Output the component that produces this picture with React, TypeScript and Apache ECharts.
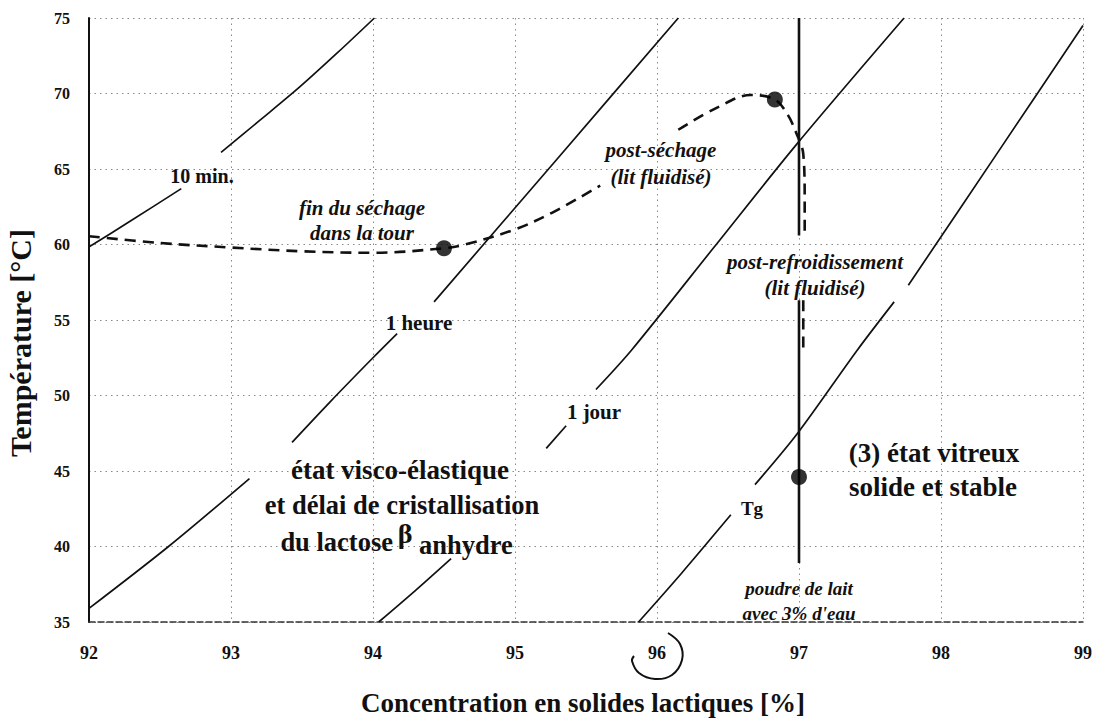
import React, { useEffect, useRef } from "react";
import * as echarts from "echarts";

// Axis ranges / ticks
const xTicks = [92, 93, 94, 95, 96, 97, 98, 99];
const yTicks = [35, 40, 45, 50, 55, 60, 65, 70, 75];

// Iso-time crystallisation lines (segments broken where labels sit)
const tenMinLow = [[91.96, 59.6], [92.3, 61.6], [92.65, 63.7]];
const tenMinHigh = [[92.93, 66.1], [93.2, 68.2], [93.48, 70.4], [93.75, 72.7], [94.01, 75]];
const oneHourA = [[92, 35.9], [92.56, 40.0], [93.13, 44.5]];
const oneHourB = [[93.43, 46.9], [93.7, 49.6], [94.0, 52.5], [94.17, 54.1]];
const oneHourC = [[94.43, 56.2], [95.3, 65.7], [96.15, 75]];
const oneDayA = [[94.04, 35], [94.3, 37.1], [94.55, 39.2]];
const oneDayB = [[95.22, 46.5], [95.36, 48.0]];
const oneDayC = [[95.57, 50.4], [95.82, 53.0], [96.4, 59.8], [96.98, 66.6], [97.74, 75]];
const tgA = [[95.87, 35], [96.17, 38.2], [96.52, 42.1]];
const tgB = [[96.69, 44.1], [96.99, 47.5], [97.41, 53.0], [97.67, 56.2]];
const tgC = [[97.77, 57.3], [98.4, 66.1], [99.0, 74.5]];

// Milk powder with 3% water (vertical line)
const powderTop = [[97, 75], [97, 60.6]];
const powderBottom = [[97, 56.3], [97, 38.9]];

// Process path (dashed)
const pathA = [[92.0, 60.55], [92.5, 60.1], [93.0, 59.8], [93.5, 59.55], [94.0, 59.45], [94.5, 59.75], [94.65, 60.0], [95.0, 61.0], [95.26, 62.1], [95.6, 63.9]];
const pathB = [[96.15, 67.6], [96.43, 69.1], [96.66, 69.9], [96.83, 69.6], [96.92, 68.6], [96.98, 67.4], [97.03, 66.0], [97.04, 63.0], [97.04, 60.7]];
const pathC = [[97.03, 56.3], [97.03, 53.0]];

// Key states
const keyPoints = [[94.5, 59.75], [96.83, 69.6], [97.0, 44.6]];

const SERIF = "'Liberation Serif', 'Times New Roman', serif";
const INK = "#111111";

export default function App() {
  const ref = useRef<HTMLDivElement>(null);

  useEffect(() => {
    document.body.style.margin = "0";
    const chart = echarts.init(ref.current!, null, { renderer: "svg" });

    const solid = (data: number[][], width = 1.7) => ({
      type: "line",
      data,
      smooth: 0.3,
      showSymbol: false,
      symbol: "none",
      lineStyle: { color: INK, width },
      silent: true,
      z: 3,
    });
    const dashed = (data: number[][]) => ({
      type: "line",
      data,
      smooth: 0.35,
      showSymbol: false,
      symbol: "none",
      lineStyle: { color: INK, width: 2.6, type: [11, 7] },
      silent: true,
      z: 4,
    });

    const txt = (text: string, x: number, y: number, size: number, opts: any = {}) => ({
      type: "text",
      x,
      y,
      silent: true,
      z: 10,
      style: {
        text,
        fill: INK,
        font: `${opts.italic ? "italic " : ""}bold ${size}px ${SERIF}`,
        textAlign: opts.align || "center",
        textVerticalAlign: "middle",
      },
      ...(opts.rotation ? { rotation: opts.rotation } : {}),
    });

    chart.setOption({
      animation: false,
      backgroundColor: "#ffffff",
      grid: { left: 89, right: 9, top: 18, bottom: 99 },
      xAxis: {
        type: "value",
        min: xTicks[0],
        max: xTicks[xTicks.length - 1],
        interval: 1,
        axisLine: { show: true, lineStyle: { color: "#333", width: 1.5, type: [6, 3] } },
        axisTick: { show: false },
        axisLabel: {
          margin: 22,
          color: INK,
          fontFamily: SERIF,
          fontWeight: "bold",
          fontSize: 18,
        },
        splitLine: { show: true, lineStyle: { color: "#8a8a8a", width: 1, type: [1.5, 4] } },
      },
      yAxis: {
        type: "value",
        min: yTicks[0],
        max: yTicks[yTicks.length - 1],
        interval: 5,
        axisLine: { show: true, lineStyle: { color: INK, width: 2 } },
        axisTick: { show: false },
        axisLabel: {
          margin: 19,
          color: INK,
          fontFamily: SERIF,
          fontWeight: "bold",
          fontSize: 16,
        },
        splitLine: { show: true, lineStyle: { color: "#8a8a8a", width: 1, type: [1.5, 4] } },
      },
      series: [
        solid(tenMinLow),
        solid(tenMinHigh),
        solid(oneHourA),
        solid(oneHourB),
        solid(oneHourC),
        solid(oneDayA),
        solid(oneDayB),
        solid(oneDayC),
        solid(tgA),
        solid(tgB),
        solid(tgC),
        solid(powderTop, 2.6),
        solid(powderBottom, 2.6),
        dashed(pathA),
        dashed(pathB),
        dashed(pathC),
        {
          type: "scatter",
          data: keyPoints,
          symbol: "circle",
          symbolSize: 16,
          itemStyle: { color: "#000" },
          silent: true,
          z: 6,
        },
      ],
      graphic: [
        txt("Concentration en solides lactiques [%]", 583, 703, 27),
        txt("Température [°C]", 20, 343, 30, { rotation: Math.PI / 2 }),
        txt("10 min.", 202, 176, 20),
        txt("fin du séchage", 362, 208, 21, { italic: true }),
        txt("dans la tour", 362, 233, 21, { italic: true }),
        txt("post-séchage", 661, 150, 21, { italic: true }),
        txt("(lit fluidisé)", 661, 177, 21, { italic: true }),
        txt("1 heure", 419, 323, 21),
        txt("1 jour", 594, 412, 21),
        txt("post-refroidissement", 815, 262, 21, { italic: true }),
        txt("(lit fluidisé)", 815, 288, 21, { italic: true }),
        txt("Tg", 752, 508, 19),
        txt("poudre de lait", 799, 588, 19, { italic: true }),
        txt("avec 3% d'eau", 799, 613, 19, { italic: true }),
        txt("état visco-élastique", 400, 470, 27),
        txt("et délai de cristallisation", 402, 505, 26.5),
        txt("du lactose", 393, 542, 26.5, { align: "right" }),
        txt("β", 405, 533, 28),
        txt("anhydre", 419, 545, 26.5, { align: "left" }),
        txt("(3) état vitreux", 934, 453, 27),
        txt("solide et stable", 933, 487, 27),
        {
          type: "polyline",
          silent: true,
          z: 10,
          shape: {
            points: [[668, 633], [680, 644], [682, 660], [672, 675], [655, 679], [639, 673], [632, 661], [634, 656]],
            smooth: 0.4,
          },
          style: { stroke: INK, lineWidth: 2, fill: null },
        },
      ],
    });

    return () => chart.dispose();
  }, []);

  return <div ref={ref} style={{ width: 1095, height: 721 }} />;
}
